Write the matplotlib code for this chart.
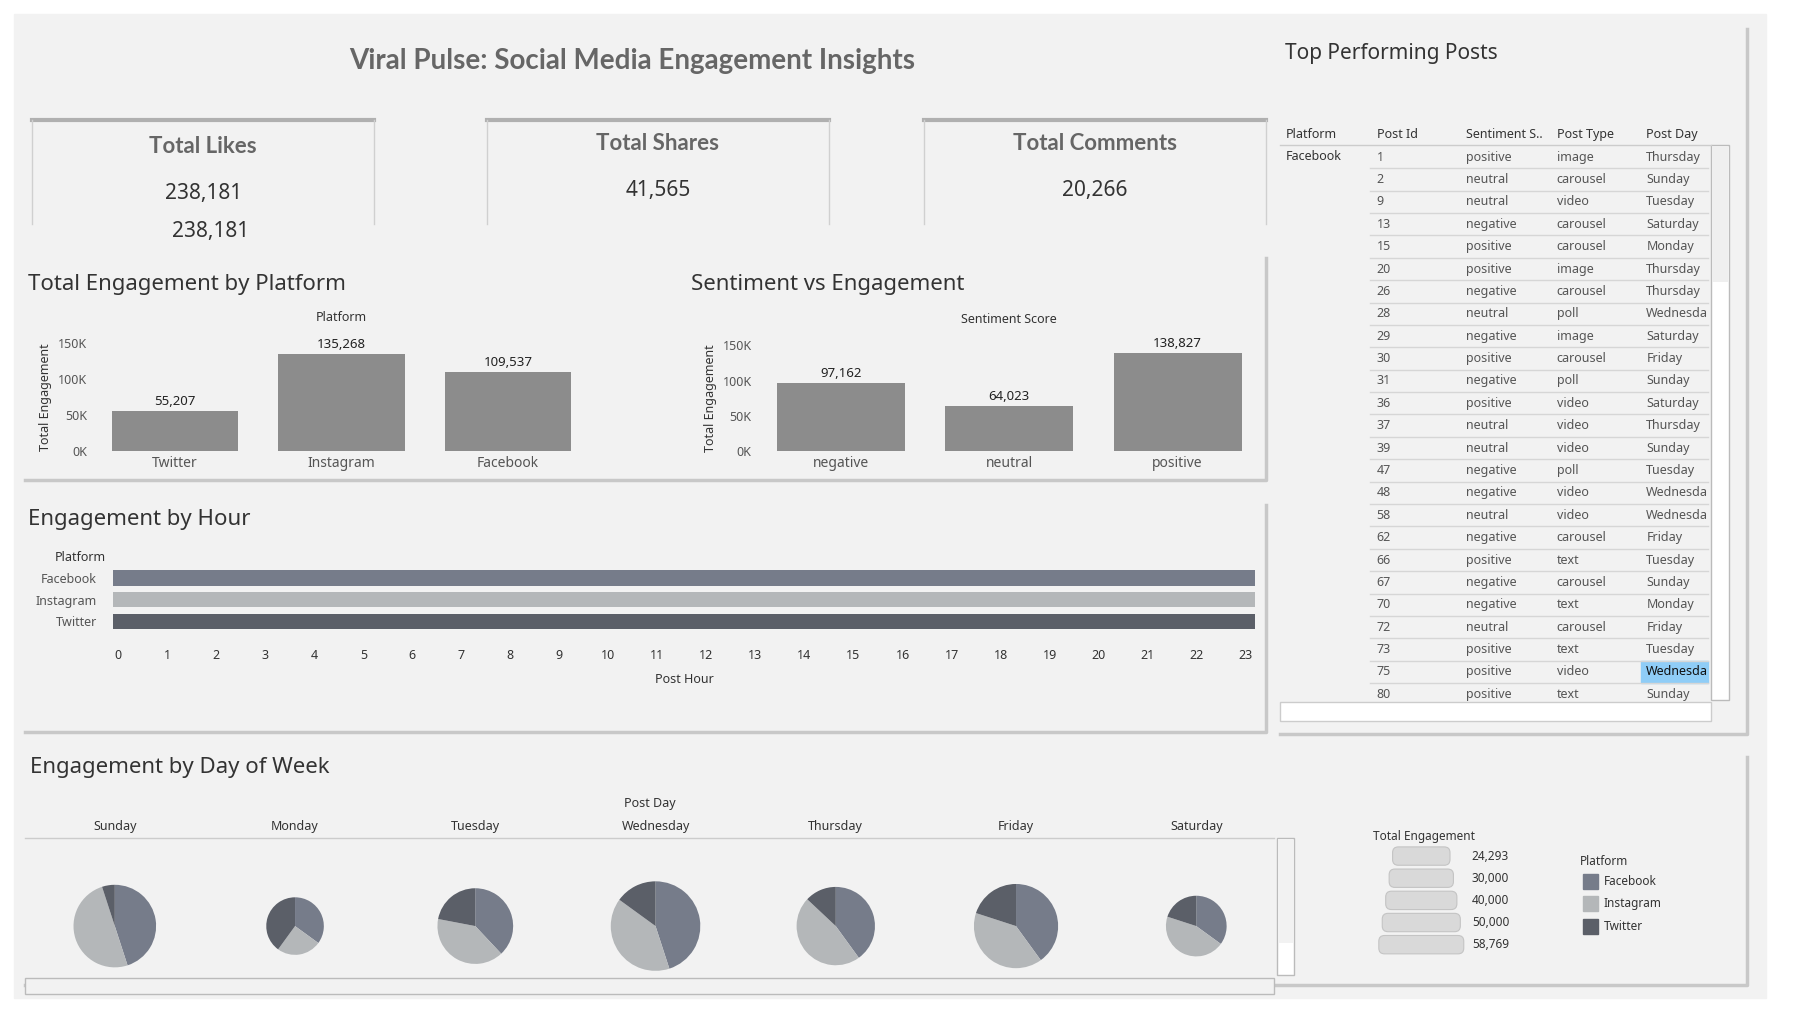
import matplotlib.pyplot as plt
import numpy as np
from matplotlib.patches import Rectangle, FancyBboxPatch

plt.rcParams['font.family'] = ['Noto Sans', 'DejaVu Sans']

# ---- data ----
kpi_titles = ['Total Likes', 'Total Shares', 'Total Comments']
kpi_values = [238181, 41565, 20266]

platforms = ['Twitter', 'Instagram', 'Facebook']
platform_eng = [55207, 135268, 109537]

sentiments = ['negative', 'neutral', 'positive']
sentiment_eng = [97162, 64023, 138827]

hour_platforms = ['Facebook', 'Instagram', 'Twitter']
hours = list(range(24))

days = ['Sunday', 'Monday', 'Tuesday', 'Wednesday', 'Thursday', 'Friday', 'Saturday']
day_totals = [50000, 24293, 42000, 58769, 45000, 52000, 27000]
day_fb = [0.45, 0.35, 0.38, 0.45, 0.40, 0.40, 0.35]
day_ig = [0.50, 0.25, 0.40, 0.40, 0.47, 0.40, 0.45]
day_tw = [0.05, 0.40, 0.22, 0.15, 0.13, 0.20, 0.20]
size_legend = ['24,293', '30,000', '40,000', '50,000', '58,769']

table_ids = [1, 2, 9, 13, 15, 20, 26, 28, 29, 30, 31, 36, 37, 39, 47, 48, 58, 62, 66, 67, 70, 72, 73, 75, 80]
table_sent = ['positive', 'neutral', 'neutral', 'negative', 'positive', 'positive', 'negative', 'neutral',
              'negative', 'positive', 'negative', 'positive', 'neutral', 'neutral', 'negative', 'negative',
              'neutral', 'negative', 'positive', 'negative', 'negative', 'neutral', 'positive', 'positive', 'positive']
table_type = ['image', 'carousel', 'video', 'carousel', 'carousel', 'image', 'carousel', 'poll', 'image',
              'carousel', 'poll', 'video', 'video', 'video', 'poll', 'video', 'video', 'carousel', 'text',
              'carousel', 'text', 'carousel', 'text', 'video', 'text']
table_day = ['Thursday', 'Sunday', 'Tuesday', 'Saturday', 'Monday', 'Thursday', 'Thursday', 'Wednesda',
             'Saturday', 'Friday', 'Sunday', 'Saturday', 'Thursday', 'Sunday', 'Tuesday', 'Wednesda',
             'Wednesda', 'Friday', 'Tuesday', 'Sunday', 'Monday', 'Friday', 'Tuesday', 'Wednesda', 'Sunday']

C_FB, C_IG, C_TW = '#767c8a', '#b4b7b9', '#5b5f68'
BAR = '#8c8c8c'
TXT = '#555555'

W, H = 1567, 881


def Y(y):
    return H - y


def rect(x0, y0, x1, y1):
    return [x0 / W, 1 - y1 / H, (x1 - x0) / W, (y1 - y0) / H]


fig = plt.figure(figsize=(17.99, 10.11), dpi=100)
bg = fig.add_axes([0, 0, 1, 1])
bg.set_xlim(0, W)
bg.set_ylim(0, H)
bg.axis('off')

bg.add_patch(Rectangle((12, Y(870)), 1526, 858, color='#f2f2f2', zorder=0))


def panel(x0, y0, x1, y1):
    bg.plot([x1, x1, x0], [Y(y0), Y(y1), Y(y1)], color='#c8c8c8', lw=2.5, zorder=1)


panel(22, 225, 1103, 418)
panel(22, 440, 1103, 638)
panel(1115, 25, 1522, 640)
panel(22, 660, 1522, 858)

bg.text(551, Y(53), 'Viral Pulse: Social Media Engagement Insights', ha='center', va='center',
        fontsize=20, fontweight='bold', color='#666666', family=['Lato', 'DejaVu Sans'])

# KPI boxes
for (x0, x1), t, v, ty in zip([(28, 326), (424, 722), (805, 1103)], kpi_titles, kpi_values, [128, 125, 125]):
    bg.plot([x0, x1], [Y(105), Y(105)], color='#b0b0b0', lw=3)
    bg.plot([x0, x0], [Y(105), Y(195)], color='#d0d0d0', lw=1)
    bg.plot([x1, x1], [Y(105), Y(195)], color='#d0d0d0', lw=1)
    bg.text((x0 + x1) / 2, Y(ty), t, ha='center', va='center', fontsize=16, fontweight='bold',
            color='#666666', family=['Lato', 'DejaVu Sans'])
    bg.text((x0 + x1) / 2, Y(ty + 41), f'{v:,}', ha='center', va='center', fontsize=15, color='#333333')
bg.text(183, Y(202), f'{kpi_values[0]:,}', ha='center', va='center', fontsize=15, color='#333333')

# bar charts
def bar_chart(box, cats, vals, title, tx, header):
    bg.text(tx, Y(248), title, ha='left', va='center', fontsize=16, color='#333333')
    ax = fig.add_axes(rect(*box))
    ax.set_facecolor('none')
    x = np.arange(len(cats))
    ax.bar(x, vals, width=0.76, color=BAR)
    for xi, v in zip(x, vals):
        ax.text(xi, v + 4000, f'{v:,}', ha='center', va='bottom', fontsize=9.5, color='#222222')
    ax.set_xlim(-0.5, len(cats) - 0.5)
    ax.set_ylim(0, 150000)
    ax.set_yticks([0, 50000, 100000, 150000])
    ax.set_yticklabels(['0K', '50K', '100K', '150K'], fontsize=9, color=TXT)
    ax.set_xticks(x)
    ax.set_xticklabels(cats, fontsize=10, color=TXT)
    ax.tick_params(length=0)
    ax.set_ylabel('Total Engagement', fontsize=9, color='#333333', labelpad=4)
    for s in ax.spines.values():
        s.set_visible(False)
    ax.set_title(header, fontsize=9, color='#333333', pad=16)


bar_chart((80, 299, 515, 393), platforms, platform_eng, 'Total Engagement by Platform', 24, 'Platform')
bar_chart((659, 301, 1099, 393), sentiments, sentiment_eng, 'Sentiment vs Engagement', 602, 'Sentiment Score')

# engagement by hour
bg.text(24, Y(453), 'Engagement by Hour', ha='left', va='center', fontsize=16, color='#333333')
bg.text(48, Y(486), 'Platform', ha='left', va='center', fontsize=9, color='#333333')
axh = fig.add_axes(rect(103 - 0.1 * 42.7, 494, 1085 + 0.2 * 42.7, 551))
axh.set_facecolor('none')
for i, (p, c) in enumerate(zip(hour_platforms, [C_FB, C_IG, C_TW])):
    axh.barh([i] * len(hours), [1] * len(hours), left=[h - 0.5 for h in hours], height=0.72, color=c)
axh.set_xlim(-0.1, 23.2)
axh.set_ylim(2.5, -0.5)
axh.set_yticks(range(3))
axh.set_yticklabels(hour_platforms, fontsize=9, color=TXT)
axh.set_xticks(hours)
axh.set_xticklabels([str(h) for h in hours], fontsize=9, color='#333333')
axh.tick_params(length=0, pad=12)
axh.set_xlabel('Post Hour', fontsize=9, color='#333333', labelpad=8)
for s in axh.spines.values():
    s.set_visible(False)

# table
bg.text(1119, Y(47), 'Top Performing Posts', ha='left', va='center', fontsize=15, color='#333333')
cols_x = [1120, 1199, 1277, 1356, 1434]
for cx, h in zip(cols_x, ['Platform', 'Post Id', 'Sentiment S..', 'Post Type', 'Post Day']):
    bg.text(cx, Y(117), h, ha='left', va='center', fontsize=9, color='#333333')
bg.plot([1115, 1490], [Y(126), Y(126)], color='#cccccc', lw=1)
bg.text(1120, Y(136), 'Facebook', ha='left', va='center', fontsize=9, color='#333333')
for i, (pid, s, t, d) in enumerate(zip(table_ids, table_sent, table_type, table_day)):
    yy = 137 + i * 19.5
    if pid == 75:
        bg.add_patch(Rectangle((1429, Y(yy + 9.5)), 59, 19, color='#8fcdf7', zorder=1))
    bg.text(1199, Y(yy), str(pid), ha='left', va='center', fontsize=9, color=TXT, zorder=2)
    bg.text(1277, Y(yy), s, ha='left', va='center', fontsize=9, color=TXT, zorder=2)
    bg.text(1356, Y(yy), t, ha='left', va='center', fontsize=9, color=TXT, zorder=2)
    bg.text(1434, Y(yy), d, ha='left', va='center', fontsize=9,
            color='#111111' if pid == 75 else TXT, zorder=2)
    if i < len(table_ids) - 1:
        bg.plot([1193, 1488], [Y(yy + 9.7), Y(yy + 9.7)], color='#d6d6d6', lw=1)
bg.add_patch(Rectangle((1490, Y(610)), 16, 484, facecolor='white', edgecolor='#bbbbbb', lw=1))
bg.add_patch(Rectangle((1491, Y(246)), 14, 119, facecolor='#efefef', edgecolor='none'))
bg.add_patch(Rectangle((1115, Y(628)), 375, 16, facecolor='white', edgecolor='#cccccc', lw=1))

# day of week pies
bg.text(26, Y(669), 'Engagement by Day of Week', ha='left', va='center', fontsize=16, color='#333333')
bg.text(566, Y(700), 'Post Day', ha='center', va='center', fontsize=9, color='#333333')
bg.plot([22, 1110], [Y(730), Y(730)], color='#cccccc', lw=1)
max_t = max(day_totals)
for i, (d, tot, f, g, t) in enumerate(zip(days, day_totals, day_fb, day_ig, day_tw)):
    cx = 100 + i * 157
    bg.text(cx, Y(720), d, ha='center', va='center', fontsize=9, color='#333333')
    r = 39 * np.sqrt(tot / max_t)
    bg.pie([f, g, t], colors=[C_FB, C_IG, C_TW], startangle=90, counterclock=False,
           center=(cx, Y(807)), radius=r, frame=True)
bg.set_xlim(0, W)
bg.set_ylim(0, H)
bg.set_aspect('auto')
bg.axis('off')
bg.add_patch(Rectangle((22, Y(866)), 1088, 14, facecolor='#f2f2f2', edgecolor='#bbbbbb', lw=1))
bg.add_patch(Rectangle((1112, Y(850)), 15, 120, facecolor='white', edgecolor='#bbbbbb', lw=1))
bg.add_patch(Rectangle((1113, Y(822)), 13, 91, facecolor='#f2f2f2', edgecolor='none'))

# legends
bg.text(1196, Y(729), 'Total Engagement', ha='left', va='center', fontsize=8.5, color='#333333')
for i, lab in enumerate(size_legend):
    yy = 746 + i * 19.3
    w = 50 + i * 6
    bg.add_patch(FancyBboxPatch((1238 - w / 2, Y(yy + 8)), w, 16, boxstyle='round,pad=0,rounding_size=5',
                                facecolor='#d9d9d9', edgecolor='#c4c4c4', lw=0.8))
    bg.text(1282, Y(yy), lab, ha='left', va='center', fontsize=8.5, color='#333333')
bg.text(1376, Y(751), 'Platform', ha='left', va='center', fontsize=8.5, color='#333333')
for i, (p, c) in enumerate(zip(hour_platforms, [C_FB, C_IG, C_TW])):
    yy = 768 + i * 19.5
    bg.add_patch(Rectangle((1379, Y(yy + 6.5)), 13, 13, color=c))
    bg.text(1397, Y(yy), p, ha='left', va='center', fontsize=8.5, color='#333333')

fig.savefig('out.png', dpi=100, facecolor='white')
